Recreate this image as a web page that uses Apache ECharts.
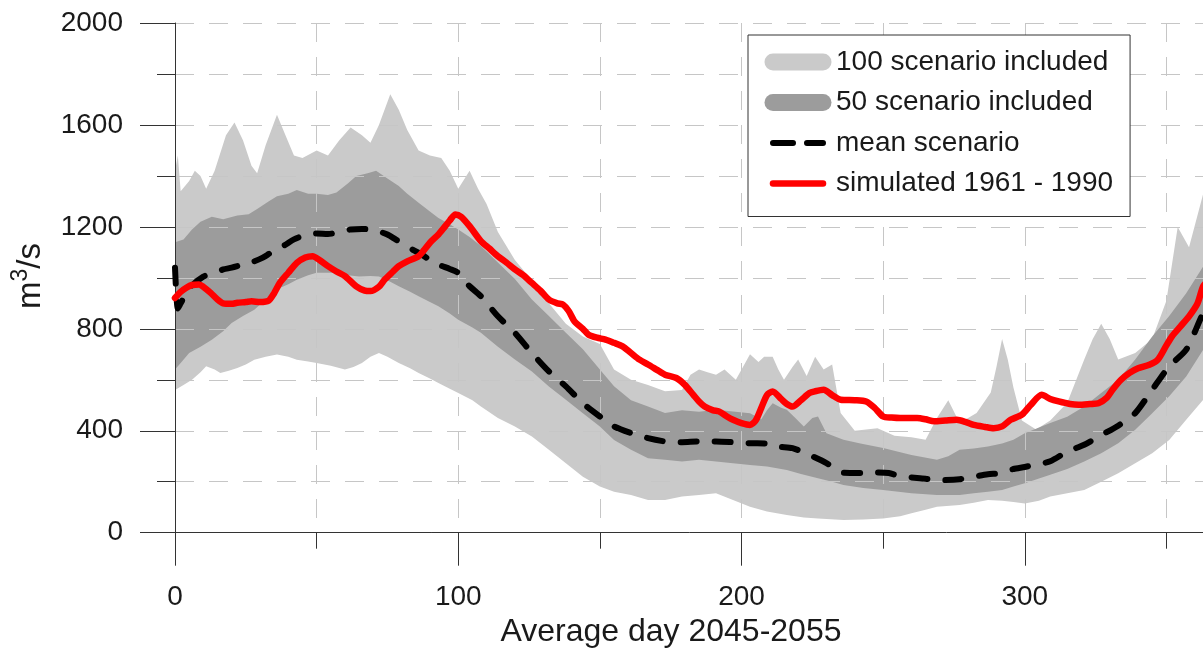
<!DOCTYPE html>
<html>
<head>
<meta charset="utf-8">
<script src="https://cdn.jsdelivr.net/npm/echarts@6/dist/echarts.min.js"></script>
<style>
  html, body { margin: 0; padding: 0; background: #fff; }
  #chart { width: 1203px; height: 650px; }
</style>
</head>
<body>
<div id="chart"></div>
<script>
// Daily discharge (m3/s) by average day of year, 2045-2055 projections.
// Each entry is [day, discharge].

// Envelope of all 100 scenarios
const upper100 = [[0,1420],[1,1480],[2,1340],[5,1380],[7,1420],[9,1400],[11,1350],[14,1420],[18,1560],[21,1610],[24,1540],[27,1440],[29,1410],[32,1520],[36,1640],[39,1560],[42,1480],[45,1470],[50,1500],[54,1480],[58,1540],[62,1590],[66,1560],[69,1530],[72,1600],[76,1720],[79,1660],[82,1580],[86,1500],[90,1480],[94,1470],[97,1420],[100,1350],[104,1420],[107,1350],[110,1290],[114,1180],[120,1070],[126,990],[132,900],[138,820],[144,770],[150,740],[155,640],[161,600],[167,580],[173,555],[179,560],[182,620],[185,640],[188,630],[191,620],[194,640],[198,600],[201,660],[203,700],[206,670],[208,690],[211,690],[213,640],[215,600],[218,650],[220,680],[223,615],[226,690],[229,640],[232,660],[235,470],[240,400],[248,410],[254,380],[260,375],[265,365],[269,450],[273,520],[277,430],[283,470],[288,550],[290,650],[292,760],[294,680],[296,570],[299,440],[304,405],[309,440],[315,510],[321,680],[324,760],[327,820],[330,760],[333,680],[339,705],[345,760],[350,910],[354,1200],[358,1120],[363,1330],[365,1300]];
const lower100 = [[0,560],[3,580],[6,600],[9,630],[11,653],[14,640],[16,627],[19,635],[22,646],[25,660],[28,679],[32,690],[36,699],[40,690],[43,679],[47,672],[50,666],[55,655],[60,640],[63,650],[66,666],[69,690],[72,705],[75,690],[79,666],[83,645],[86,627],[90,605],[93,587],[97,565],[100,548],[105,520],[108,495],[114,450],[120,417],[126,377],[132,325],[138,273],[144,220],[150,181],[155,161],[161,148],[167,128],[173,128],[179,142],[185,148],[191,155],[197,128],[203,102],[209,83],[216,69],[222,60],[227,56],[236,50],[243,52],[250,56],[256,65],[260,76],[265,90],[269,102],[277,109],[282,118],[287,128],[292,125],[296,120],[300,115],[305,125],[309,142],[315,155],[321,168],[327,200],[333,233],[339,273],[345,312],[351,364],[357,443],[363,522],[365,545]];

// Envelope of the central 50 scenarios
const upper50 = [[0,1140],[3,1150],[6,1190],[9,1220],[13,1240],[17,1230],[22,1245],[26,1250],[29,1270],[33,1300],[36,1320],[40,1330],[43,1345],[47,1330],[50,1330],[54,1325],[57,1335],[61,1370],[64,1400],[68,1410],[71,1420],[75,1390],[79,1360],[82,1330],[86,1295],[90,1260],[93,1235],[97,1210],[100,1190],[104,1160],[108,1125],[114,1060],[120,995],[126,915],[132,850],[138,785],[144,720],[150,640],[155,575],[161,520],[167,495],[173,470],[179,480],[185,475],[191,482],[197,476],[203,469],[207,445],[209,480],[211,508],[214,490],[216,482],[219,450],[222,417],[225,450],[227,456],[230,390],[236,365],[242,350],[250,332],[260,305],[269,286],[273,300],[277,325],[282,330],[287,338],[292,350],[296,365],[300,390],[309,430],[315,455],[321,495],[327,548],[333,600],[339,680],[345,770],[351,850],[357,940],[363,1045],[365,1070]];
const lower50 = [[0,640],[2,666],[5,705],[9,730],[13,757],[17,790],[20,823],[24,850],[28,875],[32,915],[36,955],[40,975],[43,993],[47,1010],[50,1020],[54,1020],[57,1020],[61,1010],[65,1005],[69,1007],[72,1005],[76,985],[79,967],[83,945],[86,928],[90,905],[93,889],[97,860],[100,836],[105,805],[108,785],[114,730],[120,680],[126,633],[132,574],[138,522],[144,469],[150,417],[155,364],[161,325],[167,292],[173,286],[179,279],[185,286],[191,279],[197,273],[203,266],[209,260],[216,246],[221,230],[227,214],[232,200],[236,187],[243,175],[250,168],[260,155],[269,148],[277,148],[282,155],[287,161],[292,168],[296,181],[300,194],[309,227],[315,250],[321,279],[327,312],[333,351],[339,404],[345,469],[351,535],[357,613],[363,718],[365,740]];

// Mean of all scenarios
const meanScenario = [[0,1040],[1,880],[2,900],[4,940],[6,970],[10,1005],[14,1020],[17,1033],[20,1040],[24,1052],[28,1065],[31,1079],[34,1100],[36,1111],[39,1130],[42,1151],[46,1168],[50,1174],[54,1172],[57,1177],[60,1185],[62,1190],[66,1192],[69,1190],[72,1182],[75,1170],[78,1150],[81,1131],[84,1110],[87,1092],[90,1070],[93,1052],[97,1035],[100,1020],[102,993],[104,967],[108,928],[114,849],[120,784],[126,705],[132,633],[138,574],[144,508],[150,456],[155,417],[161,391],[167,371],[173,358],[179,355],[185,358],[191,358],[197,355],[203,351],[209,350],[213,338],[218,332],[224,305],[230,273],[236,235],[242,234],[247,236],[252,234],[256,222],[263,214],[270,206],[277,210],[282,220],[287,229],[292,235],[296,250],[300,258],[305,270],[309,280],[315,318],[321,345],[327,383],[333,420],[339,469],[345,561],[351,653],[357,718],[363,862],[365,890]];

// Simulated reference period 1961 - 1990
const simulated = [[0,921],[2,945],[4,961],[6,972],[8.5,974],[10,965],[12.6,941],[15,915],[17,900],[20,898],[22,902],[25,905],[27,908],[30,905],[33,910],[35,940],[37,980],[40,1020],[43,1059],[46,1080],[48.6,1085],[51,1070],[54,1046],[57,1025],[60,1007],[64,967],[67,950],[69,948],[72,965],[74,993],[77,1025],[79,1046],[82,1065],[86,1085],[88,1110],[90,1138],[93,1170],[95,1197],[97,1225],[99,1249],[101,1240],[104,1203],[108,1144],[111,1115],[114,1085],[117,1060],[120,1033],[123,1010],[126,980],[129,950],[132,915],[135,900],[137,895],[139,870],[141,830],[144,800],[146,777],[149,765],[152,758],[155,745],[158,731],[161,705],[164,679],[167,660],[170,640],[173,620],[177,607],[180,580],[183,541],[185,515],[187,495],[190,480],[192,476],[195,455],[197,443],[200,430],[203,423],[205,440],[207,490],[209,540],[211,554],[214,525],[216,505],[218,495],[221,520],[224,548],[226,555],[229,561],[232,540],[235,522],[240,520],[244,515],[247,490],[250,456],[253,452],[256,450],[259,450],[262,450],[265,445],[268,437],[272,440],[276,443],[279,435],[282,423],[286,415],[289,410],[292,417],[295,443],[299,463],[302,500],[306,541],[309,525],[312,515],[316,505],[319,502],[323,505],[326,508],[329,530],[331,561],[334,600],[337,627],[340,645],[344,659],[347,679],[350,735],[352,771],[355,810],[358,849],[361,900],[363,967],[365,990]];

const xTicks = [0, 100, 200, 300];
const yTicks = [0, 400, 800, 1200, 1600, 2000];

const FONT = '"Liberation Sans", Arial, Helvetica, sans-serif';
const INK = '#1a1a1a';
const AXIS = '#333333';
const LIGHT = '#cacaca';
const DARK = '#9c9c9c';
const GRID = '#c6c6c6';
const RED = '#ff0000';

const dashedGrid = {
  show: true,
  showMinLine: false,
  lineStyle: { color: GRID, width: 1, type: [19, 15] }
};

// Filled bands are painted from the top envelope down, each covering the one before
function band(name, data, fill) {
  return {
    name: name,
    type: 'line',
    data: data,
    symbol: 'none',
    smooth: false,
    silent: true,
    lineStyle: { width: 0, color: fill },
    itemStyle: { color: fill },
    areaStyle: { color: fill, opacity: 1, origin: 'start' },
    z: 1
  };
}

const hiddenSymbol = { color: 'rgba(0,0,0,0)', borderWidth: 0, opacity: 0 };

const chart = echarts.init(document.getElementById('chart'), null, { renderer: 'canvas' });
chart.setOption({
  animation: false,
  backgroundColor: '#ffffff',
  // The plot area runs past the right edge of the canvas (axis to day 400)
  grid: { left: 175, top: 23, width: 1133, height: 509.7, containLabel: false, outerBoundsMode: 'none' },
  xAxis: {
    type: 'value',
    min: 0,
    max: 400,
    interval: 100,
    z: 3,
    axisLine: { show: true, onZero: false, lineStyle: { color: AXIS, width: 1 } },
    axisTick: { show: true, length: 33, lineStyle: { color: AXIS, width: 1 } },
    minorTick: { show: true, splitNumber: 2, length: 16, lineStyle: { color: AXIS, width: 1 } },
    axisLabel: {
      margin: 51, fontSize: 28, color: INK, fontFamily: FONT,
      formatter: v => (xTicks.indexOf(v) >= 0 ? String(v) : '')
    },
    splitLine: dashedGrid,
    minorSplitLine: dashedGrid
  },
  yAxis: {
    type: 'value',
    min: 0,
    max: 2000,
    interval: 400,
    z: 3,
    axisLine: { show: true, onZero: false, lineStyle: { color: AXIS, width: 1 } },
    axisTick: { show: true, length: 35, lineStyle: { color: AXIS, width: 1 } },
    minorTick: { show: true, splitNumber: 2, length: 18, lineStyle: { color: AXIS, width: 1 } },
    axisLabel: {
      margin: 52, fontSize: 28, color: INK, fontFamily: FONT,
      formatter: v => (yTicks.indexOf(v) >= 0 ? String(v) : '')
    },
    splitLine: dashedGrid,
    minorSplitLine: dashedGrid
  },
  legend: {
    left: 748,
    top: 35,
    orient: 'vertical',
    selectedMode: false,
    backgroundColor: '#ffffff',
    borderColor: '#333333',
    borderWidth: 1,
    borderRadius: 0,
    padding: [13, 17, 19, 16.5],
    itemWidth: 50,
    itemHeight: 17,
    itemGap: 12.5,
    z: 10,
    textStyle: { fontFamily: FONT, fontSize: 28, color: INK, padding: [0, 0, 0, 8] },
    data: [
      { name: '100 scenario included', itemStyle: hiddenSymbol,
        lineStyle: { color: LIGHT, width: 17, cap: 'round', type: 'solid' } },
      { name: '50 scenario included', itemStyle: hiddenSymbol,
        lineStyle: { color: DARK, width: 17, cap: 'round', type: 'solid' } },
      { name: 'mean scenario', itemStyle: hiddenSymbol,
        lineStyle: { color: '#000000', width: 6, cap: 'round', type: [20, 14] } },
      { name: 'simulated 1961 - 1990', itemStyle: hiddenSymbol,
        lineStyle: { color: RED, width: 6.5, cap: 'round', type: 'solid' } }
    ]
  },
  graphic: [
    {
      type: 'text',
      x: 671,
      y: 632,
      z: 10,
      style: {
        text: 'Average day 2045-2055',
        font: '32px ' + FONT,
        fill: INK,
        align: 'center',
        verticalAlign: 'middle',
        textAlign: 'center',
        textVerticalAlign: 'middle'
      }
    },
    {
      type: 'text',
      x: 31,
      y: 276,
      rotation: Math.PI / 2,
      z: 10,
      style: {
        text: '{a|m}{b|3}{a|/s}',
        fill: INK,
        align: 'center',
        verticalAlign: 'middle',
        textAlign: 'center',
        textVerticalAlign: 'middle',
        rich: {
          a: { fontSize: 33, lineHeight: 44, fontFamily: FONT, fill: INK },
          b: { fontSize: 23, lineHeight: 23, fontFamily: FONT, fill: INK, verticalAlign: 'top' }
        }
      }
    }
  ],
  series: [
    band('100 scenario included', upper100, LIGHT),
    band('50 scenario included', upper50, DARK),
    band('50 scenario lower bound', lower50, LIGHT),
    band('100 scenario lower bound', lower100, '#ffffff'),
    {
      name: 'mean scenario',
      type: 'line',
      data: meanScenario,
      symbol: 'none',
      smooth: 0.25,
      silent: true,
      z: 5,
      itemStyle: { color: '#000000' },
      lineStyle: { color: '#000000', width: 6, type: [16, 18], cap: 'round', join: 'round' }
    },
    {
      name: 'simulated 1961 - 1990',
      type: 'line',
      data: simulated,
      symbol: 'none',
      smooth: 0.25,
      silent: true,
      z: 6,
      itemStyle: { color: RED },
      lineStyle: { color: RED, width: 6.5, cap: 'round', join: 'round' }
    }
  ]
});
</script>
</body>
</html>
